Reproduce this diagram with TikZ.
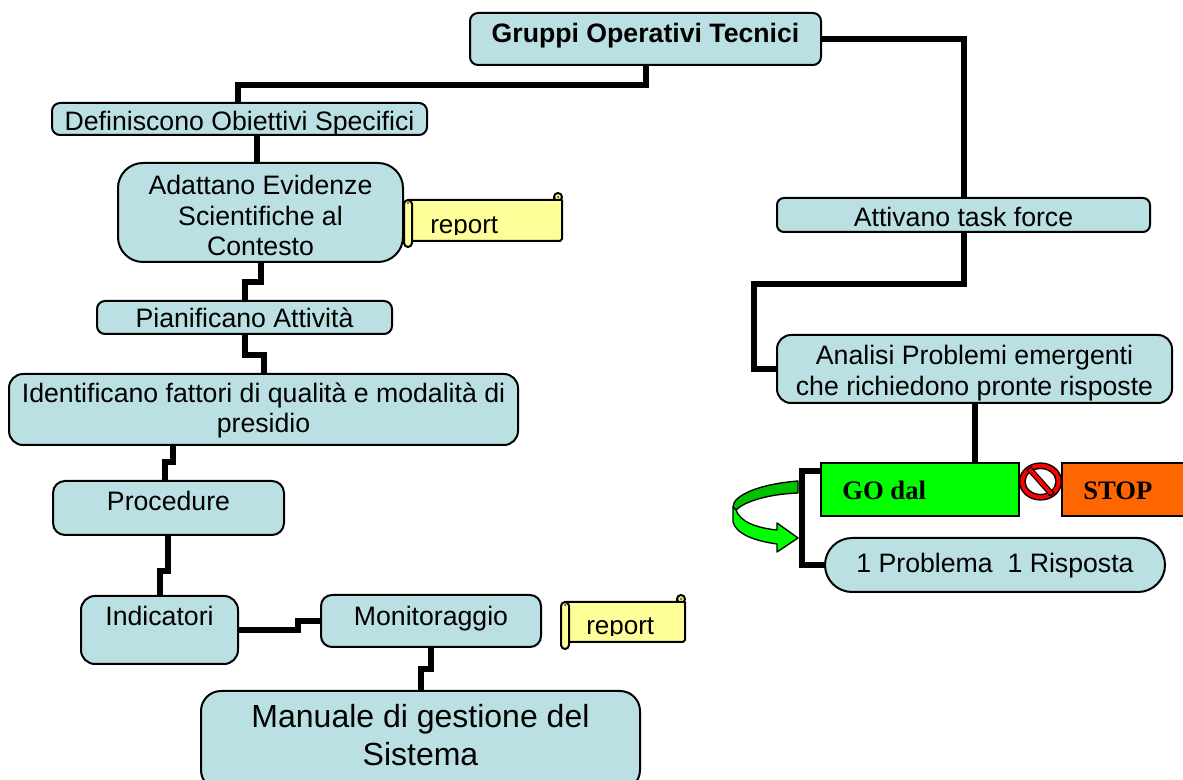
\documentclass[tikz,border=0pt]{standalone}
\usepackage{fontspec}
\setmainfont{Liberation Sans}
\newfontfamily\serifbold[BoldFont={Liberation Serif Bold}]{Liberation Serif}
\definecolor{boxblue}{HTML}{BBE0E3}
\definecolor{scrollyellow}{HTML}{FFFF99}
\definecolor{gogreen}{HTML}{00FF00}
\definecolor{darkgo}{HTML}{00C000}
\definecolor{stoporange}{HTML}{FF6600}
\tikzset{
  x=0.75pt,y=-0.75pt,
  box/.style={draw=black,fill=boxblue,line width=1.5pt,inner sep=0pt,outer sep=0pt},
  boxtext/.style={align=center,inner sep=0pt,text=black,font=\fontsize{20}{23}\selectfont},
  conn/.style={draw=black,line width=4.5pt,line join=miter},
  flat/.style={draw=black,line width=1.5pt,inner sep=0pt,outer sep=0pt},
  serifbig/.style={font=\serifbold\bfseries\fontsize{20}{22}\selectfont,inner sep=0pt,text=black},
  scrollpart/.style={draw=black,fill=scrollyellow,line width=1.5pt,line join=round},
  reporttext/.style={font=\fontsize{19.5}{22}\selectfont,inner sep=0pt,anchor=base west},
}
% name, x0, y0, x1, y1, corner radius, text shift (px), text style, text
\newcommand{\bx}[9]{%
  \node[box,rounded corners=#6*0.75pt,minimum width={(#4-#2)*0.75pt},minimum height={(#5-#3)*0.75pt},
    label={[boxtext,#8,yshift={-(#7)*0.75pt}]center:{#9}}]
    (#1) at ({(#2+#4)/2},{(#3+#5)/2}) {};}
% name, left x, top y, right x, body bottom, roll bottom, text x, baseline y
\newcommand{\scrollshape}[8]{%
  \draw[scrollpart] (#4-4,#3-3) circle[radius=4];
  \fill[black!55!scrollyellow] (#4-4,#3-3) circle[radius=1.5];
  \draw[scrollpart] (#2+5,#3) -- (#4,#3) -- (#4,#5-2) -- (#4-2,#5) -- (#2+5,#5) -- cycle;
  \draw[draw=black,line width=1.5pt] (#4-8,#3-3) -- (#4-8,#3);
  \draw[scrollpart] (#2,#3+4) arc[start angle=180,end angle=360,radius=4] -- (#2+8,#6-4)
     arc[start angle=0,end angle=180,radius=4] -- cycle;
  \fill[black!55!scrollyellow] (#2+4,#3+3) circle[radius=1.5];
  \begin{scope}
    \clip (#2+10,#3+2) rectangle (#4-2,#8+1);
    \node[reporttext] (#1) at (#7,#8) {report};
  \end{scope}}
\begin{document}
\begin{tikzpicture}
\useasboundingbox (0,0) rectangle (1183,780);
\clip (0,0) rectangle (1183,780);

\bx{got}{470}{13}{821}{65}{8}{-3.5}{font=\bfseries\fontsize{20}{23}\selectfont}{Gruppi Operativi Tecnici}
\bx{def}{52}{103}{427}{135}{8}{5}{}{Definiscono Obiettivi Specifici}
\bx{ada}{118}{163}{403}{262}{25}{3}{}{Adattano Evidenze\\Scientifiche al\\Contesto}
\bx{pia}{97}{301}{392}{334}{8}{0}{}{Pianificano Attività}
\bx{ide}{9}{374}{518}{445}{14}{1}{}{Identificano fattori di qualità e modalità di\\presidio}
\bx{pro}{53}{481}{284}{535}{12}{-7}{}{Procedure}
\bx{ind}{81}{596}{238}{664}{14}{-14}{}{Indicatori}
\bx{mon}{321}{595}{541}{647}{11}{-2.5}{}{Monitoraggio}
\bx{man}{201}{691}{640}{790}{20}{-5}{font=\fontsize{24}{28.5}\selectfont}{Manuale di gestione del\\Sistema}
\bx{att}{777}{198}{1150}{232}{7}{2}{}{Attivano task force}
\bx{ana}{777}{335}{1172}{403}{14}{4}{}{Analisi Problemi emergenti\\che richiedono pronte risposte}
\bx{uno}{825}{538}{1165}{592}{27}{1}{}{1 Problema\ \ 1 Risposta}

\node[flat,fill=gogreen,minimum width={198*0.75pt},minimum height={53*0.75pt}] (go) at (920,489.5) {};
\node[serifbig,anchor=base west] (gotext) at (842,500) {GO dal};
\node[flat,fill=stoporange,minimum width={140*0.75pt},minimum height={53*0.75pt}] (stop) at (1132,489.5) {};
\node[serifbig,anchor=base west] (stoptext) at (1083,500) {STOP};

% connectors
\coordinate (c1a) at (646,85);  \coordinate (c1b) at (238,85);
\draw[conn] (got.south -| c1a) -- (c1a) -- (c1b) -- (def.north -| c1b);
\coordinate (c2) at (964,39);
\draw[conn] (got.east |- c2) -- (c2) -- (att.north -| c2);
\coordinate (c3a) at (964,284); \coordinate (c3b) at (754,284); \coordinate (c3c) at (754,369);
\draw[conn] (att.south -| c3a) -- (c3a) -- (c3b) -- (c3c) -- (ana.west |- c3c);
\coordinate (c4) at (975,433);
\draw[conn] (ana.south -| c4) -- (go.north -| c4);
\coordinate (c5a) at (802,471); \coordinate (c5b) at (802,565);
\draw[conn] (go.west |- c5a) -- (c5a) -- (c5b) -- (uno.west |- c5b);
\coordinate (c6) at (257,149);
\draw[conn] (def.south -| c6) -- (ada.north -| c6);
\coordinate (c7a) at (261,282); \coordinate (c7b) at (245,282);
\draw[conn] (ada.south -| c7a) -- (c7a) -- (c7b) -- (pia.north -| c7b);
\coordinate (c8a) at (245,355); \coordinate (c8b) at (264,355);
\draw[conn] (pia.south -| c8a) -- (c8a) -- (c8b) -- (ide.north -| c8b);
\coordinate (c9a) at (173,462); \coordinate (c9b) at (165,462);
\draw[conn] (ide.south -| c9a) -- (c9a) -- (c9b) -- (pro.north -| c9b);
\coordinate (c10a) at (168,571); \coordinate (c10b) at (160,571);
\draw[conn] (pro.south -| c10a) -- (c10a) -- (c10b) -- (ind.north -| c10b);
\coordinate (c11a) at (298,630); \coordinate (c11b) at (298,621);
\draw[conn] (ind.east |- c11a) -- (c11a) -- (c11b) -- (mon.west |- c11b);
\coordinate (c12a) at (431,669); \coordinate (c12b) at (421,669);
\draw[conn] (mon.south -| c12a) -- (c12a) -- (c12b) -- (man.north -| c12b);

% curved green arrow
\draw[line width=1pt,fill=darkgo,line join=round]
  (798,481) .. controls (760,484) and (733,495) .. (733,507) -- (736,510)
  .. controls (745,501) and (770,494) .. (798,493) -- cycle;
\draw[line width=1pt,fill=gogreen,line join=round]
  (733,507) -- (733,522)
  .. controls (736,534) and (755,541) .. (777,544)
  -- (777,552) -- (798,538) -- (777,523) -- (777,530)
  .. controls (757,528) and (740,522) .. (736,510) -- cycle;

% no-entry sign
\draw[draw=black,fill=red,line width=1pt] (1040.5,481.5) ellipse[x radius=21,y radius=18.5];
\draw[draw=black,fill=white,line width=1pt] (1040.5,481.5) ellipse[x radius=15.5,y radius=13];
\draw[draw=black,fill=red,line width=.75pt,line join=round]
  (1027,470) -- (1031,467) -- (1054,493) -- (1050,496) -- cycle;

% scrolls
\scrollshape{rep1}{404}{200}{562}{241}{247}{430}{234}
\scrollshape{rep2}{561}{602}{685}{642}{649}{586}{635}
\end{tikzpicture}
\end{document}
